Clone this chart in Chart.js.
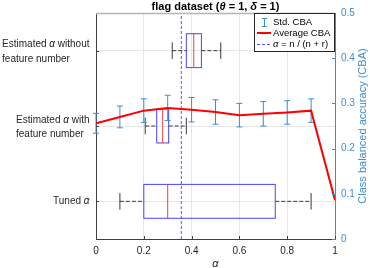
<!DOCTYPE html>
<html><head><meta charset="utf-8">
<script src="https://cdn.jsdelivr.net/npm/chart.js@4/dist/chart.umd.min.js"></script>
<style>html,body{margin:0;padding:0;background:#fff}#wrap{width:370px;height:268px}</style>
</head><body><div id="wrap"><canvas id="c" width="370" height="268"></canvas></div>
<script>
// ---- data ----
const alphaGrid = [0, 0.1, 0.2, 0.3, 0.4, 0.5, 0.6, 0.7, 0.8, 0.9, 1.0];
const avgCBA = [0.256, 0.270, 0.284, 0.290, 0.286, 0.281, 0.274, 0.277, 0.280, 0.284, 0.086];
const stdCBA = [0.022, 0.024, 0.026, 0.028, 0.027, 0.027, 0.026, 0.027, 0.026, 0.026, 0.0];
const boxCategories = [['Tuned α'], ['Estimated α with', 'feature number'], ['Estimated α without', 'feature number']];
const boxWhiskerLow = [0.10, 0.206, 0.319];
const boxQ1 = [0.20, 0.254, 0.378];
const boxMedian = [0.30, 0.279, 0.409];
const boxQ3 = [0.75, 0.304, 0.441];
const boxWhiskerHigh = [0.90, 0.378, 0.522];
const ratioAlpha = 0.357;
const xTicks = [0, 0.2, 0.4, 0.6, 0.8, 1];
const rightTicks = [0, 0.1, 0.2, 0.3, 0.4, 0.5];

const FONT = 'Liberation Sans, Arial, Helvetica, sans-serif';
const BLUE_AX = '#3b8ed0';
const TXT = '#262626';

// draw a string where each 'α' is italic
function mixedText(ctx, str, x, y, size, measureOnly) {
  let w = 0;
  const segs = str.split(/(α)/).filter(s => s.length);
  segs.forEach(s => {
    ctx.font = (s === 'α' ? 'italic ' : '') + size + 'px ' + FONT;
    if (!measureOnly) ctx.fillText(s, x + w, y);
    w += ctx.measureText(s).width;
  });
  return w;
}

const custom = {
  id: 'custom',
  beforeDatasetsDraw(chart) {
    const { ctx, scales: { x, y, y2 } } = chart;
    const boxHalf = 0.225, capHalf = 0.11;
    ctx.save();
    for (let i = 0; i < boxCategories.length; i++) {
      const c = i + 1;
      const yc = y.getPixelForValue(c);
      const yt = y.getPixelForValue(c + boxHalf), yb = y.getPixelForValue(c - boxHalf);
      const ct = y.getPixelForValue(c + capHalf), cb = y.getPixelForValue(c - capHalf);
      const xl = x.getPixelForValue(boxWhiskerLow[i]), x1 = x.getPixelForValue(boxQ1[i]);
      const xm = x.getPixelForValue(boxMedian[i]), x3 = x.getPixelForValue(boxQ3[i]);
      const xh = x.getPixelForValue(boxWhiskerHigh[i]);
      ctx.strokeStyle = '#3a3a3a'; ctx.lineWidth = 1; ctx.setLineDash([4, 2]);
      ctx.beginPath(); ctx.moveTo(xl, yc); ctx.lineTo(x1, yc); ctx.moveTo(x3, yc); ctx.lineTo(xh, yc); ctx.stroke();
      ctx.setLineDash([]);
      ctx.beginPath(); ctx.moveTo(xl, ct); ctx.lineTo(xl, cb); ctx.moveTo(xh, ct); ctx.lineTo(xh, cb); ctx.stroke();
      ctx.strokeStyle = '#4444ff';
      ctx.strokeRect(x1, yt, x3 - x1, yb - yt);
      ctx.strokeStyle = '#ff3b3b';
      ctx.beginPath(); ctx.moveTo(xm, yt); ctx.lineTo(xm, yb); ctx.stroke();
    }
    ctx.strokeStyle = BLUE_AX; ctx.lineWidth = 1;
    for (let i = 0; i < alphaGrid.length; i++) {
      if (!stdCBA[i]) continue;
      const px = x.getPixelForValue(alphaGrid[i]);
      const pt = y2.getPixelForValue(avgCBA[i] + stdCBA[i]);
      const pb = y2.getPixelForValue(avgCBA[i] - stdCBA[i]);
      ctx.beginPath();
      ctx.moveTo(px, pt); ctx.lineTo(px, pb);
      ctx.moveTo(px - 3, pt); ctx.lineTo(px + 3, pt);
      ctx.moveTo(px - 3, pb); ctx.lineTo(px + 3, pb);
      ctx.stroke();
    }
    ctx.restore();
  },
  afterDraw(chart) {
    const { ctx, chartArea: a, scales: { x, y, y2 } } = chart;
    ctx.save();
    ctx.strokeStyle = '#b5b5b5'; ctx.lineWidth = 1.5;
    ctx.beginPath(); ctx.moveTo(a.left, a.top + 0.5); ctx.lineTo(a.right, a.top + 0.5); ctx.stroke();
    ctx.lineWidth = 1;
    ctx.strokeStyle = '#404040';
    ctx.beginPath();
    xTicks.forEach(v => { const px = Math.round(x.getPixelForValue(v)) + 0.5; ctx.moveTo(px, a.bottom); ctx.lineTo(px, a.bottom - 3); });
    [1, 2, 3].forEach(v => { const py = Math.round(y.getPixelForValue(v)) + 0.5; ctx.moveTo(a.left, py); ctx.lineTo(a.left + 3, py); });
    ctx.stroke();
    ctx.strokeStyle = BLUE_AX;
    ctx.beginPath();
    rightTicks.forEach(v => { const py = Math.round(y2.getPixelForValue(v)) + 0.5; ctx.moveTo(a.right, py); ctx.lineTo(a.right - 3, py); });
    ctx.stroke();
    // category labels (left-aligned block, right edge near axis)
    ctx.fillStyle = TXT; ctx.textAlign = 'left'; ctx.textBaseline = 'middle';
    boxCategories.forEach((lines, i) => {
      const yc = y.getPixelForValue(i + 1);
      const widths = lines.map(l => mixedText(ctx, l, 0, 0, 10, true));
      const bw = Math.max(...widths);
      const left = 89.5 - bw;
      if (lines.length === 1) {
        mixedText(ctx, lines[0], left, yc, 10);
      } else {
        mixedText(ctx, lines[0], left, yc - 6, 10);
        mixedText(ctx, lines[1], left, yc + 8.5, 10);
      }
    });
    // title
    const parts = [['flag dataset (', 'bold 11px '], ['θ', 'italic bold 11px '], [' = 1, ', 'bold 11px '], ['δ', 'italic bold 11px '], [' = 1)', 'bold 11px ']];
    let tw = 0;
    parts.forEach(p => { ctx.font = p[1] + FONT; tw += ctx.measureText(p[0]).width; });
    let tx = (a.left + a.right) / 2 - tw / 2;
    ctx.fillStyle = '#000'; ctx.textBaseline = 'middle'; ctx.textAlign = 'left';
    parts.forEach(p => { ctx.font = p[1] + FONT; ctx.fillText(p[0], tx, 6.5); tx += ctx.measureText(p[0]).width; });
    // x title
    ctx.font = 'italic 11px ' + FONT; ctx.fillStyle = TXT; ctx.textAlign = 'center';
    ctx.fillText('α', (a.left + a.right) / 2, 264);
    // right title
    ctx.save();
    ctx.translate(363, (a.top + a.bottom) / 2); ctx.rotate(-Math.PI / 2);
    ctx.font = '11px ' + FONT; ctx.fillStyle = BLUE_AX; ctx.textAlign = 'center'; ctx.textBaseline = 'middle';
    ctx.fillText('Class balanced accuracy (CBA)', 0, 0);
    ctx.restore();
    // legend
    const L = 254.5, T = 13.5, R = 334.5, B = 51.5;
    ctx.fillStyle = '#fff'; ctx.fillRect(L, T, R - L, B - T);
    ctx.strokeStyle = '#262626'; ctx.lineWidth = 1; ctx.strokeRect(L, T, R - L, B - T);
    ctx.font = '9.5px ' + FONT; ctx.fillStyle = '#000'; ctx.textAlign = 'left'; ctx.textBaseline = 'middle';
    ctx.strokeStyle = BLUE_AX; ctx.beginPath();
    ctx.moveTo(264.5, 18); ctx.lineTo(264.5, 27); ctx.moveTo(262, 18.5); ctx.lineTo(267, 18.5); ctx.moveTo(262, 26.5); ctx.lineTo(267, 26.5); ctx.stroke();
    ctx.fillText('Std. CBA', 273, 22);
    ctx.strokeStyle = '#ff0000'; ctx.lineWidth = 2; ctx.beginPath(); ctx.moveTo(257, 33); ctx.lineTo(271, 33); ctx.stroke();
    ctx.fillText('Average CBA', 273, 33);
    ctx.strokeStyle = '#5555ff'; ctx.lineWidth = 1; ctx.setLineDash([3, 2]); ctx.beginPath(); ctx.moveTo(257, 44.5); ctx.lineTo(271, 44.5); ctx.stroke(); ctx.setLineDash([]);
    ctx.fillStyle = '#000';
    mixedText(ctx, 'α = n / (n + r)', 273, 44, 9.5);
    ctx.restore();
  }
};

new Chart(document.getElementById('c'), {
  type: 'line',
  data: {
    datasets: [
      {
        label: 'Average CBA', yAxisID: 'y2', xAxisID: 'x',
        data: alphaGrid.map((a, i) => ({ x: a, y: avgCBA[i] })),
        borderColor: '#ff0000', borderWidth: 2, pointRadius: 0, tension: 0, fill: false
      },
      {
        label: 'α = n / (n + r)', yAxisID: 'y', xAxisID: 'x',
        data: [{ x: ratioAlpha, y: 0.5 }, { x: ratioAlpha, y: 3.5 }],
        borderColor: '#5555ff', borderWidth: 1, borderDash: [3, 2], pointRadius: 0, fill: false
      }
    ]
  },
  options: {
    responsive: false, animation: false, devicePixelRatio: 1,
    layout: { padding: { top: 13, left: 0, right: 0, bottom: 0 } },
    plugins: { legend: { display: false }, title: { display: false }, tooltip: { enabled: false } },
    scales: {
      x: {
        type: 'linear', min: 0, max: 1, position: 'bottom',
        afterBuildTicks: s => { s.ticks = xTicks.map(v => ({ value: v })); },
        afterFit: s => { s.height = 29; },
        ticks: { font: { family: FONT, size: 10 }, color: TXT, padding: 6, maxRotation: 0, callback: v => String(v) },
        grid: { color: '#e6e6e6', drawTicks: false },
        border: { color: '#404040' }
      },
      y: {
        type: 'linear', position: 'left', min: 0.5, max: 3.5,
        afterBuildTicks: s => { s.ticks = [1, 2, 3].map(v => ({ value: v })); },
        afterFit: s => { s.width = 96; },
        ticks: { display: false },
        grid: { color: '#e6e6e6', drawTicks: false },
        border: { color: '#404040' }
      },
      y2: {
        type: 'linear', position: 'right', min: 0, max: 0.5,
        afterBuildTicks: s => { s.ticks = rightTicks.map(v => ({ value: v })); },
        afterFit: s => { s.width = 35; },
        ticks: { font: { family: FONT, size: 10 }, color: BLUE_AX, padding: 6, callback: v => String(v) },
        grid: { drawOnChartArea: false, drawTicks: false },
        border: { color: BLUE_AX }
      }
    }
  },
  plugins: [custom]
});
</script></body></html>
